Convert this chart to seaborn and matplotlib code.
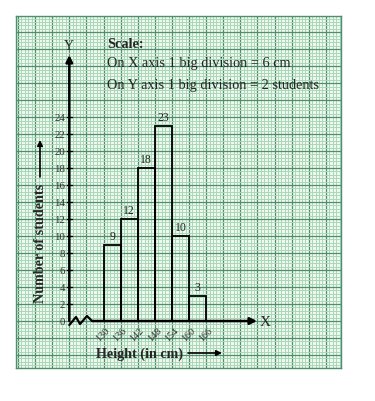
import numpy as np
import matplotlib
matplotlib.use('Agg')
import matplotlib.pyplot as plt
import seaborn as sns
from matplotlib.ticker import FixedLocator

# data: class edges (cm) and number of students in each class
edges = [130, 136, 142, 148, 154, 160, 166]
counts = [9, 12, 18, 23, 10, 3]
ytick_vals = list(range(0, 25, 2))
scale_lines = ['On X axis 1 big division = 6 cm',
               'On Y axis 1 big division = 2 students']

sns.set_style('white')
plt.rcParams['font.family'] = ['Liberation Serif', 'DejaVu Serif']

W, H = 375, 402
fig = plt.figure(figsize=(W / 100, H / 100), dpi=100)
L, T, R, B = 16, 17, 341, 369
ax = fig.add_axes([L / W, 1 - B / H, (R - L) / W, (B - T) / H])

# axes limits chosen so the broken origin (118 cm, 0) sits on a big line
x0, x1 = 99.3, 213.3
y0, y1 = -5.53, 35.9
ax.set_xlim(x0, x1)
ax.set_ylim(y0, y1)


def px2x(px):
    return x0 + (px - L) / (R - L) * (x1 - x0)


def py2y(py):
    return y1 - (py - T) / (B - T) * (y1 - y0)


def fig_pt(px, py):
    return (px / W, 1 - py / H)


# graph paper
major_c, minor_c = '#4f8f6e', '#a9d8b6'
ax.set_facecolor('#eef8f0')
ax.xaxis.set_major_locator(FixedLocator(np.arange(100, 215, 6)))
ax.xaxis.set_minor_locator(FixedLocator(np.arange(100, 215, 1.2)))
ax.yaxis.set_major_locator(FixedLocator(np.arange(-6, 37, 2)))
ax.yaxis.set_minor_locator(FixedLocator(np.arange(-6, 37, 0.4)))
ax.grid(which='minor', color=minor_c, lw=0.7)
ax.grid(which='major', color=major_c, lw=0.9)
ax.set_axisbelow(True)
ax.tick_params(which='both', length=0, labelbottom=False, labelleft=False)
for s in ax.spines.values():
    s.set_color(major_c)
    s.set_linewidth(1.0)

# histogram bars
mids = [(a + b) / 2 for a, b in zip(edges[:-1], edges[1:])]
sns.histplot(x=mids, weights=counts, bins=edges, fill=False, color='black',
             linewidth=1.3, ax=ax, zorder=3)
ax.set_xlabel('')
ax.set_ylabel('')
ax.set_xlim(x0, x1)
ax.set_ylim(y0, y1)

for m, c in zip(mids, counts):
    ax.annotate(str(c), (m, c), xytext=(0, 2), textcoords='offset points',
                ha='center', va='bottom', fontsize=8.5, color='#222')

# axes with arrows
ox = 118
arrow = dict(arrowstyle='-|>', color='black', lw=1.8, mutation_scale=10,
             shrinkA=0, shrinkB=0)
ax.annotate('', xy=(ox, py2y(56)), xytext=(ox, 0), arrowprops=arrow, zorder=4)
ax.annotate('', xy=(px2x(257), 0), xytext=(px2x(92), 0), arrowprops=arrow, zorder=4)
ax.text(ox, py2y(47), 'Y', ha='center', va='center', fontsize=10)
ax.text(px2x(265), 0, 'X', ha='center', va='center', fontsize=11)

# zigzag break on x axis
zz = [(69.3, 326), (76, 318), (80, 325), (87, 317), (92, 322)]
ax.plot([px2x(p[0]) for p in zz], [py2y(p[1]) for p in zz], color='black', lw=1.6, zorder=4)

# y ticks
for v in ytick_vals:
    if v > 0:
        ax.plot([ox - 0.8, ox + 0.8], [v, v], color='black', lw=1, zorder=4)
    ax.text(px2x(65), v, str(v), ha='right', va='center', fontsize=7.8, color='#333')

# x tick labels
for e in edges:
    ax.text(e + 0.6, py2y(326.5), str(e), rotation=45, ha='right', va='top',
            rotation_mode='anchor', fontsize=7.3, color='#333')

# axis titles with arrows
fig.text(*fig_pt(40, 243), 'Number of students', rotation=90, ha='center',
         va='center', fontsize=10.2, fontweight='bold')
fig.text(*fig_pt(139, 354), 'Height (in cm)', ha='center', va='center',
         fontsize=10.2, fontweight='bold')
arrow2 = dict(arrowstyle='-|>', color='black', lw=1.2, mutation_scale=8,
              shrinkA=0, shrinkB=0)
ax.annotate('', xy=fig_pt(40, 141), xytext=fig_pt(40, 178),
            xycoords='figure fraction', textcoords='figure fraction', arrowprops=arrow2)
ax.annotate('', xy=fig_pt(222, 354), xytext=fig_pt(188, 354),
            xycoords='figure fraction', textcoords='figure fraction', arrowprops=arrow2)

# scale note
fig.text(*fig_pt(107, 44), 'Scale:', ha='left', va='center', fontsize=10.3,
         fontweight='bold')
fig.text(*fig_pt(107, 63), scale_lines[0], ha='left', va='center', fontsize=10.3)
fig.text(*fig_pt(107, 85), scale_lines[1], ha='left', va='center', fontsize=10.3)

fig.savefig('out.png', dpi=100, facecolor='white')
